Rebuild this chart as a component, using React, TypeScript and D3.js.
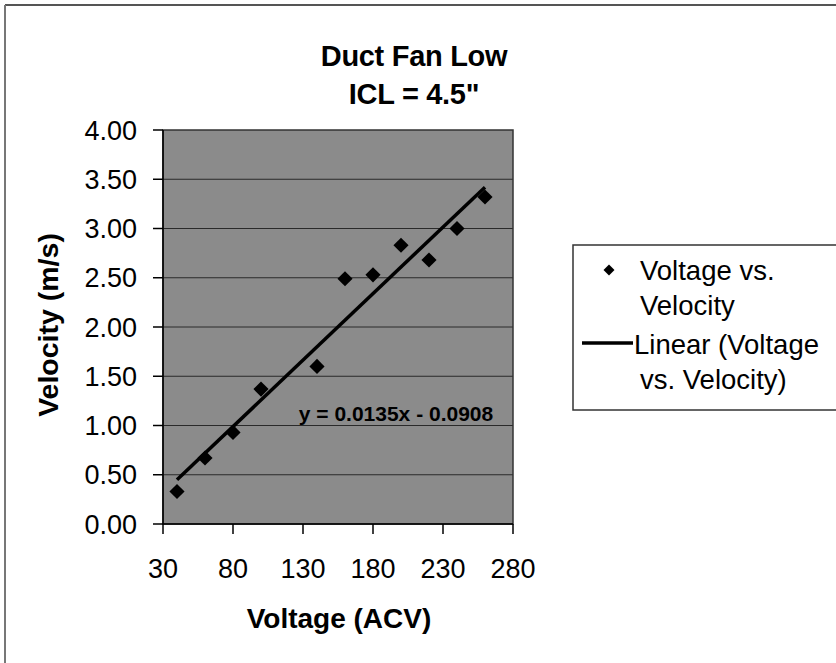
import React from "react";
import * as d3 from "d3";

const voltage = [40, 60, 80, 100, 140, 160, 180, 200, 220, 240, 260];
const velocity = [0.33, 0.67, 0.93, 1.37, 1.6, 2.49, 2.53, 2.83, 2.68, 3.0, 3.32];
const xTicks = [30, 80, 130, 180, 230, 280];
const yTicks = [0, 0.5, 1, 1.5, 2, 2.5, 3, 3.5, 4];
const slope = 0.0135;
const intercept = -0.0908;
const titleLines = ["Duct Fan Low", 'ICL = 4.5"'];
const legendItems = [
  ["Voltage vs.", "Velocity"],
  ["Linear (Voltage", "vs. Velocity)"],
];

const W = 836;
const H = 663;
const plot = { left: 163, right: 513, top: 130, bottom: 524 };
const font = "'Liberation Sans', Arial, Helvetica, sans-serif";

export default function App() {
  const x = d3.scaleLinear().domain([30, 280]).range([plot.left, plot.right]);
  const y = d3.scaleLinear().domain([0, 4]).range([plot.bottom, plot.top]);
  const xMin = d3.min(voltage) as number;
  const xMax = d3.max(voltage) as number;
  const trend = d3
    .line<number>()
    .x((v) => x(v))
    .y((v) => y(slope * v + intercept))([xMin, xMax]);
  const diamond = d3.symbol().type(d3.symbolSquare).size(115)() as string;

  return (
    <svg
      width={W}
      height={H}
      style={{ position: "absolute", left: 0, top: 0, display: "block", background: "#fff" }}
      fontFamily={font}
    >
      <line x1={5} y1={5} x2={W} y2={5} stroke="#555" strokeWidth={2} />
      <line x1={5} y1={5} x2={5} y2={H} stroke="#777" strokeWidth={2} />

      {titleLines.map((t, i) => (
        <text key={t} x={414} y={66 + i * 38} textAnchor="middle" fontSize={29} fontWeight="bold" letterSpacing={-0.3}>
          {t}
        </text>
      ))}

      <rect
        x={plot.left}
        y={plot.top}
        width={plot.right - plot.left}
        height={plot.bottom - plot.top}
        fill="#8b8b8b"
      />
      {yTicks.slice(1, -1).map((t) => (
        <line key={t} x1={plot.left} x2={plot.right} y1={y(t)} y2={y(t)} stroke="#2a2a2a" strokeWidth={1} />
      ))}
      <rect
        x={plot.left}
        y={plot.top}
        width={plot.right - plot.left}
        height={plot.bottom - plot.top}
        fill="none"
        stroke="#333"
        strokeWidth={1.5}
      />

      {yTicks.map((t) => (
        <g key={t}>
          <line x1={plot.left - 10} x2={plot.left} y1={y(t)} y2={y(t)} stroke="#000" strokeWidth={1.5} />
          <text x={137} y={y(t)} dy="0.36em" textAnchor="end" fontSize={27}>
            {t.toFixed(2)}
          </text>
        </g>
      ))}
      {xTicks.map((t) => (
        <g key={t}>
          <line x1={x(t)} x2={x(t)} y1={plot.bottom} y2={plot.bottom + 10} stroke="#000" strokeWidth={1.5} />
          <text x={x(t)} y={578} textAnchor="middle" fontSize={27}>
            {t}
          </text>
        </g>
      ))}
      <line x1={plot.left} x2={plot.right} y1={plot.bottom} y2={plot.bottom} stroke="#000" strokeWidth={1.5} />
      <line x1={plot.left} x2={plot.left} y1={plot.top} y2={plot.bottom} stroke="#000" strokeWidth={1.5} />

      <path d={trend ?? ""} stroke="#000" strokeWidth={3.5} fill="none" />
      {voltage.map((v, i) => (
        <path key={v} d={diamond} transform={`translate(${x(v)},${y(velocity[i])}) rotate(45)`} fill="#000" />
      ))}
      <text x={396} y={421} textAnchor="middle" fontSize={21} fontWeight="bold">
        y = 0.0135x - 0.0908
      </text>

      <text
        transform={`translate(58,${(plot.top + plot.bottom) / 2 - 2}) rotate(-90)`}
        textAnchor="middle"
        fontSize={28.5}
        fontWeight="bold"
      >
        Velocity (m/s)
      </text>
      <text x={339} y={628} textAnchor="middle" fontSize={28} fontWeight="bold">
        Voltage (ACV)
      </text>

      <rect x={573} y={245} width={W - 573 + 5} height={165} fill="#fff" stroke="#333" strokeWidth={1.5} />
      <path d={d3.symbol().type(d3.symbolSquare).size(60)() as string} transform="translate(609,270) rotate(45)" fill="#000" />
      <line x1={582} x2={633} y1={343} y2={343} stroke="#000" strokeWidth={3.5} />
      {legendItems.map((lines, i) =>
        lines.map((l, j) => (
          <text key={l} x={j === 0 && i === 1 ? 634 : 640} y={280 + i * 74 + j * 35} fontSize={27.5}>
            {l}
          </text>
        ))
      )}
    </svg>
  );
}
